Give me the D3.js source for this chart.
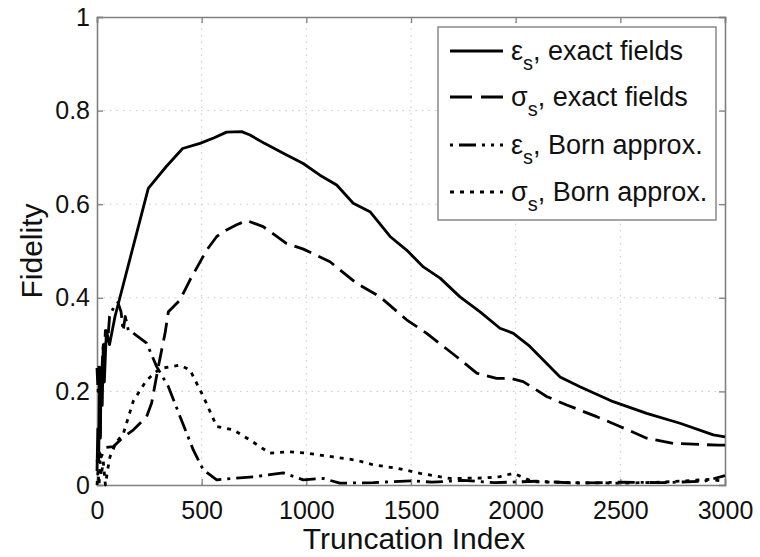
<!DOCTYPE html>
<html>
<head>
<meta charset="utf-8">
<script src="https://cdn.jsdelivr.net/npm/d3@7"></script>
<style>
  html, body { margin: 0; padding: 0; background: #fff; }
  svg text { font-family: "Liberation Sans", Arial, Helvetica, sans-serif; fill: #111; }
</style>
</head>
<body>
<svg id="chart" width="760" height="557"></svg>
<script>
// Fidelity vs. truncation index, four reconstructions
const xTicks = [0, 500, 1000, 1500, 2000, 2500, 3000];
const yTicks = [0, 0.2, 0.4, 0.6, 0.8, 1];

// εs, exact fields
const epsExact = [
  [0,0.03],[4,0.12],[8,0.05],[12,0.2],[16,0.1],[20,0.25],[25,0.17],[30,0.3],[35,0.22],
  [45,0.33],[60,0.3],[86,0.36],[245,0.634],[330,0.68],[409,0.719],[492,0.73],[560,0.742],
  [619,0.754],[691,0.755],[731,0.748],[800,0.73],[890,0.709],[985,0.687],[1065,0.662],
  [1145,0.641],[1224,0.602],[1304,0.584],[1400,0.531],[1479,0.502],[1559,0.466],
  [1639,0.442],[1734,0.402],[1830,0.37],[1925,0.335],[1989,0.324],[2068,0.296],
  [2212,0.231],[2307,0.21],[2466,0.178],[2626,0.153],[2785,0.132],[2944,0.107],[3000,0.103]
];

// σs, exact fields
const sigExact = [
  [0,0.05],[10,0.07],[20,0.06],[40,0.08],[78,0.082],[120,0.1],[174,0.118],[237,0.146],
  [261,0.175],[293,0.253],[325,0.324],[341,0.37],[396,0.395],[444,0.438],[524,0.502],
  [572,0.531],[619,0.545],[667,0.556],[715,0.565],[794,0.552],[906,0.516],[986,0.504],
  [1113,0.477],[1240,0.431],[1352,0.402],[1479,0.353],[1575,0.324],[1718,0.274],
  [1814,0.239],[1909,0.228],[1973,0.228],[2036,0.221],[2148,0.189],[2244,0.171],
  [2387,0.146],[2498,0.125],[2626,0.1],[2753,0.089],[2968,0.085],[3000,0.085]
];

// εs, Born approximation
const epsBorn = [
  [0,0.25],[5,0.2],[10,0.26],[15,0.1],[20,0.22],[30,0.3],[35,0.27],[40,0.33],[50,0.3],
  [60,0.36],[80,0.38],[100,0.39],[115,0.37],[125,0.33],[135,0.36],[150,0.33],[172,0.325],
  [237,0.303],[285,0.253],[341,0.21],[397,0.146],[460,0.075],[508,0.032],[572,0.011],
  [650,0.014],[760,0.018],[890,0.026],[986,0.011],[1080,0.014],[1160,0.004],[1320,0.005],
  [1400,0.007],[1510,0.009],[1600,0.006],[1750,0.01],[1900,0.005],[2100,0.008],
  [2300,0.004],[2500,0.006],[2700,0.005],[2900,0.008],[3000,0.02]
];

// σs, Born approximation
const sigBorn = [
  [0,0.0],[5,0.03],[10,0.0],[15,0.05],[20,0.02],[30,0.05],[40,0.0],[50,0.03],[62,0.06],
  [90,0.09],[126,0.11],[174,0.18],[237,0.224],[301,0.249],[396,0.256],[444,0.246],
  [508,0.189],[572,0.125],[651,0.118],[731,0.096],[826,0.068],[922,0.071],[1001,0.068],
  [1128,0.06],[1240,0.053],[1320,0.043],[1432,0.036],[1543,0.025],[1686,0.014],
  [1850,0.015],[1925,0.018],[1989,0.025],[2084,0.007],[2300,0.005],[2500,0.004],
  [2700,0.006],[2928,0.012],[3000,0.008]
];

const seriesLabels = ["ε", "σ", "ε", "σ"];
const seriesSuffix = [", exact fields", ", exact fields", ", Born approx.", ", Born approx."];
const seriesDash = [null, "18,8", "17,6,3,6", "4,6"];
const legendDash = [null, "22,9", "3,6,17,6,3,6", "4,6"];
const seriesData = [epsExact, sigExact, epsBorn, sigBorn];

const svg = d3.select("#chart");
const margin = { left: 97, right: 35, top: 17, bottom: 72 };
const W = 760, H = 557;

const x = d3.scaleLinear().domain([0, 3000]).range([margin.left, W - margin.right]);
const y = d3.scaleLinear().domain([0, 1]).range([H - margin.bottom, margin.top]);

const x0 = x.range()[0], x1 = x.range()[1], y0 = y.range()[0], y1 = y.range()[1];

// dotted grid
const grid = svg.append("g").attr("stroke", "#c8c8c8").attr("stroke-width", 1)
  .attr("stroke-dasharray", "1.5,5");
grid.selectAll(".gx").data(xTicks.slice(1, -1)).join("line")
  .attr("x1", d => x(d)).attr("x2", d => x(d)).attr("y1", y0).attr("y2", y1);
grid.selectAll(".gy").data(yTicks.slice(1, -1)).join("line")
  .attr("y1", d => y(d)).attr("y2", d => y(d)).attr("x1", x0).attr("x2", x1);

// axes (ticks point inward, mirrored on top/right)
const tickLen = 6;
const axB = svg.append("g").attr("transform", `translate(0,${y0})`)
  .call(d3.axisBottom(x).tickValues(xTicks).tickSize(-tickLen).tickPadding(16).tickFormat(d3.format("d")));
const axT = svg.append("g").attr("transform", `translate(0,${y1})`)
  .call(d3.axisTop(x).tickValues(xTicks).tickSize(-tickLen).tickFormat(""));
const axL = svg.append("g").attr("transform", `translate(${x0},0)`)
  .call(d3.axisLeft(y).tickValues(yTicks).tickSize(-tickLen).tickPadding(7).tickFormat(d => d === 0 || d === 1 ? d3.format("d")(d) : d3.format(".1f")(d)));
const axR = svg.append("g").attr("transform", `translate(${x1},0)`)
  .call(d3.axisRight(y).tickValues(yTicks).tickSize(-tickLen).tickFormat(""));

[axB, axT, axL, axR].forEach(g => {
  g.select(".domain").attr("stroke", "#808080").attr("stroke-width", 1.6);
  g.selectAll(".tick line").attr("stroke", "#808080").attr("stroke-width", 1.3);
  g.selectAll("text").attr("font-size", 25).attr("fill", "#111")
    .attr("font-family", "'Liberation Sans', Arial, sans-serif");
});

// axis titles
svg.append("text").attr("x", (x0 + x1) / 2 + 3).attr("y", 549)
  .attr("text-anchor", "middle").attr("font-size", 30).text("Truncation Index");
svg.append("text").attr("transform", `translate(42,${(y0 + y1) / 2}) rotate(-90)`)
  .attr("text-anchor", "middle").attr("font-size", 30).text("Fidelity");

// curves
const line = d3.line().x(d => x(d[0])).y(d => y(d[1]));
const plot = svg.append("g");
seriesData.forEach((data, i) => {
  plot.append("path").datum(data).attr("d", line)
    .attr("fill", "none").attr("stroke", "#000").attr("stroke-width", 2.8)
    .attr("stroke-linejoin", "round")
    .attr("stroke-dasharray", seriesDash[i]);
});

// legend
const lg = svg.append("g");
lg.append("rect").attr("x", 438).attr("y", 27).attr("width", 278).attr("height", 193)
  .attr("fill", "#fff").attr("stroke", "#808080").attr("stroke-width", 1.4);
const rowY = [51, 97, 145, 192];
seriesData.forEach((_, i) => {
  lg.append("line").attr("x1", 450).attr("x2", 503).attr("y1", rowY[i]).attr("y2", rowY[i])
    .attr("stroke", "#000").attr("stroke-width", 2.8)
    .attr("stroke-dasharray", legendDash[i]);
  const t = lg.append("text").attr("x", 511).attr("y", rowY[i] + 9).attr("font-size", 27);
  t.append("tspan").text(seriesLabels[i]);
  t.append("tspan").attr("font-size", 20).attr("dy", 10).text("s");
  t.append("tspan").attr("dy", -10).text(seriesSuffix[i]);
});
</script>
</body>
</html>
